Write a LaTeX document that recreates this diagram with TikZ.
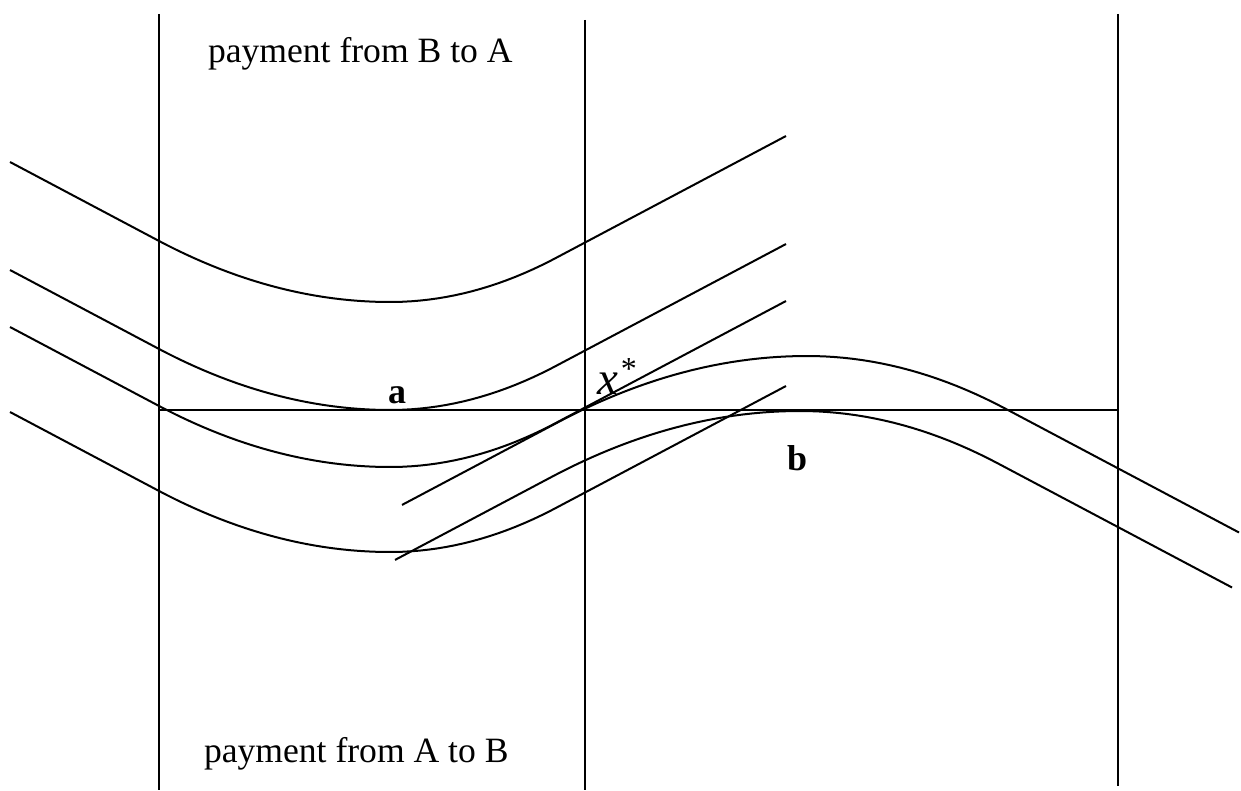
\documentclass[tikz,border=0pt]{standalone}
\usepackage{fontspec}
\setmainfont{Liberation Serif}

\begin{document}
\begin{tikzpicture}[x=0.5pt, y=-0.5pt, line width=1pt,
  paytext/.style={anchor=base west, inner sep=0pt, font=\fontsize{17.8}{20}\selectfont},
  pointlbl/.style={anchor=base, inner sep=0pt, font=\fontsize{18}{20}\selectfont\bfseries}]

% dx, half-width left, half-width right
\pgfmathdeclarefunction{bend}{3}{%
  \pgfmathparse{(#1)<0 ? #2 : #3}\let\dd\pgfmathresult
  \pgfmathparse{abs(#1)<\dd ? 0.265*((#1)/\dd)*(#1) : 0.53*abs(#1)-0.265*\dd}%
}

\def\xl{159}
\def\xm{585}
\def\xr{1118}
\def\ylev{410}

\useasboundingbox (0,0) rectangle (1241,791);

%--- Vertical lines ---
\draw (\xl,14) -- (\xl,790);
\draw (\xm,20) -- (\xm,790);
\draw (\xr,14) -- (\xr,786);

%--- Horizontal line ---
\draw (\xl,\ylev) -- (\xr,\ylev);

%--- Left family (minimum at x=390) ---
\foreach \ymin in {302,410,467,552}{
  \draw plot[domain=-380:396, samples=90] (\x+390, {\ymin-bend(\x,231.7,165.6)});
}

%--- Right family (maximum near x=800) ---
\foreach \xo/\yo in {807/356, 800/411}{
  \draw plot[domain=-405:432, samples=90] (\x+\xo, {\yo+bend(\x,248,198)});
}

%--- Labels ---
\node[paytext] (topText) at (207,63) {payment from B to A};
\node[paytext] (botText) at (203,762) {payment from A to B};
\node[pointlbl] (lblA) at (397,403) {a};
\node[pointlbl] (lblB) at (797,470) {b};
\node[anchor=base west, inner sep=0pt] (lblX) at (596,394)
  {{\fontsize{23.5}{26}\selectfont\itshape x}\hspace{1.5pt}\raisebox{7.5pt}{\fontsize{16}{18}\selectfont *}};

\end{tikzpicture}
\end{document}
